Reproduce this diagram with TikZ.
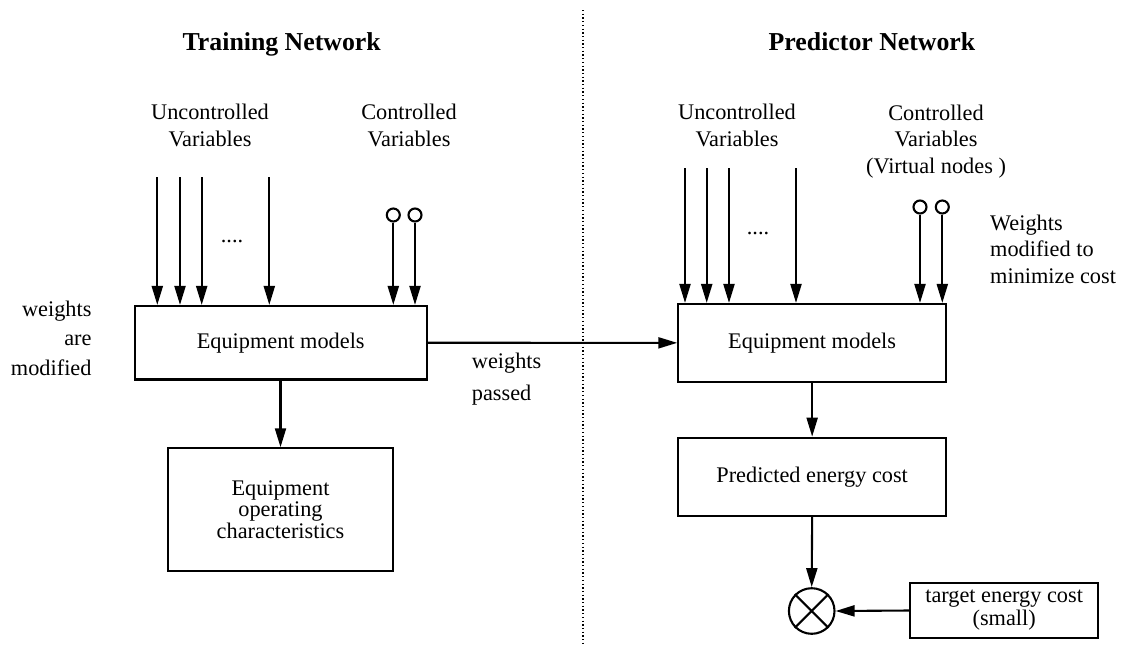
\documentclass[tikz,border=0pt]{standalone}
\usepackage{fontspec}
\setmainfont{Liberation Serif}
\usetikzlibrary{arrows.meta}
\begin{document}
\begin{tikzpicture}[x=1pt,y=-1pt,
  txt/.style={inner sep=0pt, font=\fontsize{22.3}{27}\selectfont},
  ttl/.style={inner sep=0pt, font=\fontsize{25.8}{30}\selectfont\bfseries, anchor=base},
  box/.style={draw, line width=2.1pt, inner sep=0pt, align=center, font=\fontsize{22.3}{22}\selectfont},
  arr/.style={line width=2.1pt, -{Triangle[length=19pt,width=11pt]}},
  knob/.style={circle, draw, line width=2.1pt, minimum size=13pt, inner sep=0pt},
]
\useasboundingbox (0,0) rectangle (1123,646);

% titles
\node[ttl] (tL) at (281.7,50) {Training Network};
\node[ttl] (tR) at (872,50) {Predictor Network};

% labels
\node[txt, align=center] (ucL) at (210,125.9) {Uncontrolled\\Variables};
\node[txt, align=center] (cvL) at (409,125.9) {Controlled\\Variables};
\node[txt, align=center] (ucR) at (737,125.9) {Uncontrolled\\Variables};
\node[txt, align=center, font=\fontsize{22.3}{26.5}\selectfont] (cvR) at (936,141.3) {Controlled\\Variables\\(Virtual nodes )};
\node[txt, anchor=base] (dL) at (232,242) {....};
\node[txt, anchor=base] (dR) at (758,234) {....};
\node[txt, align=right, anchor=east, font=\fontsize{22.3}{29.3}\selectfont] (wm) at (91.7,338.3) {weights\\are\\modified};
\node[txt, align=left, anchor=west, font=\fontsize{22.3}{26.5}\selectfont] (wmc) at (990,248.9) {Weights\\modified to\\minimize cost};
\node[txt, align=left, anchor=west, font=\fontsize{22.3}{32}\selectfont] (wp) at (471.7,378.8) {weights\\passed};

% boxes
\node[box, minimum width=292pt, minimum height=73.5pt] (eqL) at (280.7,342.75) {Equipment models};
\node[box, minimum width=224.4pt, minimum height=122.7pt, font=\fontsize{22.3}{21.7}\selectfont] (ocL) at (280.5,509.65) {Equipment\\operating\\characteristics};
\node[box, minimum width=267.7pt, minimum height=77.7pt] (eqR) at (812.15,342.85) {Equipment models};
\node[box, minimum width=267.7pt, minimum height=78pt] (pec) at (812.15,476.7) {Predicted energy cost};
\node[circle, draw, line width=2.1pt, minimum size=45.6pt, inner sep=0pt] (ox) at (811.7,611) {};
\node[box, minimum width=188.3pt, minimum height=55.6pt, font=\fontsize{22.3}{23}\selectfont] (tgt) at (1004.15,610.5) {target energy cost\\(small)};
\draw[line width=2.1pt] (ox.north west) -- (ox.south east) (ox.north east) -- (ox.south west);

% uncontrolled inputs
\foreach \x [count=\i] in {157.3,180,201.7,269.3} {
  \coordinate (uL\i) at (\x,177);
  \draw[arr] (uL\i) -- (uL\i |- eqL.north);
}
\foreach \x [count=\i] in {685,706.7,729,796} {
  \coordinate (uR\i) at (\x,168);
  \draw[arr] (uR\i) -- (uR\i |- eqR.north);
}

% controlled inputs
\node[knob] (kL1) at (393.3,215) {};
\node[knob] (kL2) at (415,215) {};
\node[knob] (kR1) at (920,207) {};
\node[knob] (kR2) at (942.3,207) {};
\draw[arr] (kL1.south) -- (kL1.south |- eqL.north);
\draw[arr] (kL2.south) -- (kL2.south |- eqL.north);
\draw[arr] (kR1.south) -- (kR1.south |- eqR.north);
\draw[arr] (kR2.south) -- (kR2.south |- eqR.north);

% flow
\draw[arr] (eqL.south -| ocL.north) -- (ocL.north);
\draw[arr] (eqL.east) -- (eqR.west);
\draw[arr] (eqR.south) -- (pec.north);
\draw[arr] (pec.south) -- (ox.north);
\draw[arr] (tgt.west) -- (ox.east);

% separator
\coordinate (sepT) at (583,10);
\coordinate (sepB) at (583,645);
\draw[line width=1.3pt, dash pattern=on 1.3pt off 2.4pt] (sepT) -- (sepB);
\end{tikzpicture}
\end{document}
